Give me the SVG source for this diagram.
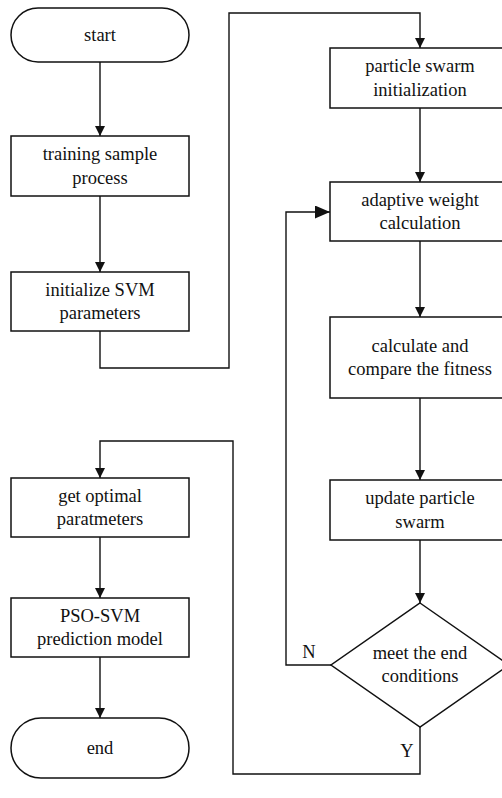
<svg xmlns="http://www.w3.org/2000/svg" width="502" height="798" viewBox="0 0 502 798" font-family="'Liberation Serif', 'Times New Roman', Times, 'DejaVu Serif', serif">
<style>
.box{fill:#fff;stroke:#111;stroke-width:1.5}
.ln{fill:none;stroke:#111;stroke-width:1.4}
.t{font-family:'Liberation Serif', 'Times New Roman', Times, 'DejaVu Serif', serif;font-size:18.5px;fill:#111;text-anchor:middle}
</style>
<defs>
<marker id="ah" markerWidth="10" markerHeight="10" refX="10" refY="5" orient="auto" markerUnits="userSpaceOnUse">
<path d="M0,0 L10,5 L0,10 Z" fill="#111"/>
</marker>
<marker id="ahL" markerWidth="15" markerHeight="13" refX="15" refY="6.5" orient="auto" markerUnits="userSpaceOnUse">
<path d="M0,0 L15,6.5 L0,13 Z" fill="#111"/>
</marker>
</defs>
<rect width="502" height="798" fill="#fff"/>
<g id="connectors">
<path class="ln" d="M100,62 V136" marker-end="url(#ah)"/>
<path class="ln" d="M100,196 V272" marker-end="url(#ah)"/>
<path class="ln" d="M100,331 V368 H229 V13 H420 V48" marker-end="url(#ah)"/>
<path class="ln" d="M420,108 V182" marker-end="url(#ah)"/>
<path class="ln" d="M420,241 V317" marker-end="url(#ah)"/>
<path class="ln" d="M420,398 V480" marker-end="url(#ah)"/>
<path class="ln" d="M420,540 V603" marker-end="url(#ah)"/>
<path class="ln" d="M331,665 H286 V212 H330" marker-end="url(#ahL)"/>
<path class="ln" d="M420,727 V774 H233 V441 H100 V478" marker-end="url(#ah)"/>
<path class="ln" d="M100,537 V598" marker-end="url(#ah)"/>
<path class="ln" d="M100,657 V718" marker-end="url(#ah)"/>
<text class="t" x="309" y="658">N</text>
<text class="t" x="407" y="757">Y</text>
</g>
<g id="start">
<rect class="box" x="11" y="8" width="178" height="54" rx="27"/>
<text class="t" x="100" y="41">start</text>
</g>
<g id="training">
<rect class="box" x="11" y="136" width="178" height="60"/>
<text class="t" x="100" y="160">training sample</text>
<text class="t" x="100" y="184">process</text>
</g>
<g id="init">
<rect class="box" x="11" y="272" width="178" height="59"/>
<text class="t" x="100" y="296">initialize SVM</text>
<text class="t" x="100" y="319">parameters</text>
</g>
<g id="particle">
<rect class="box" x="330" y="48" width="180" height="60"/>
<text class="t" x="420" y="72">particle swarm</text>
<text class="t" x="420" y="96">initialization</text>
</g>
<g id="adaptive">
<rect class="box" x="330" y="182" width="180" height="59"/>
<text class="t" x="420" y="206">adaptive weight</text>
<text class="t" x="420" y="229">calculation</text>
</g>
<g id="calculate">
<rect class="box" x="330" y="317" width="180" height="81"/>
<text class="t" x="420" y="352">calculate and</text>
<text class="t" x="420" y="375">compare the fitness</text>
</g>
<g id="update">
<rect class="box" x="330" y="480" width="180" height="60"/>
<text class="t" x="420" y="504">update particle</text>
<text class="t" x="420" y="528">swarm</text>
</g>
<g id="decision">
<polygon class="box" points="420,603 509,665 420,727 331,665"/>
<text class="t" x="420" y="659">meet the end</text>
<text class="t" x="420" y="682">conditions</text>
</g>
<g id="optimal">
<rect class="box" x="11" y="478" width="178" height="59"/>
<text class="t" x="100" y="502">get optimal</text>
<text class="t" x="100" y="525">paratmeters</text>
</g>
<g id="model">
<rect class="box" x="11" y="598" width="178" height="59"/>
<text class="t" x="100" y="622">PSO-SVM</text>
<text class="t" x="100" y="645">prediction model</text>
</g>
<g id="end">
<rect class="box" x="11" y="718" width="178" height="60" rx="30"/>
<text class="t" x="100" y="754">end</text>
</g>
</svg>
